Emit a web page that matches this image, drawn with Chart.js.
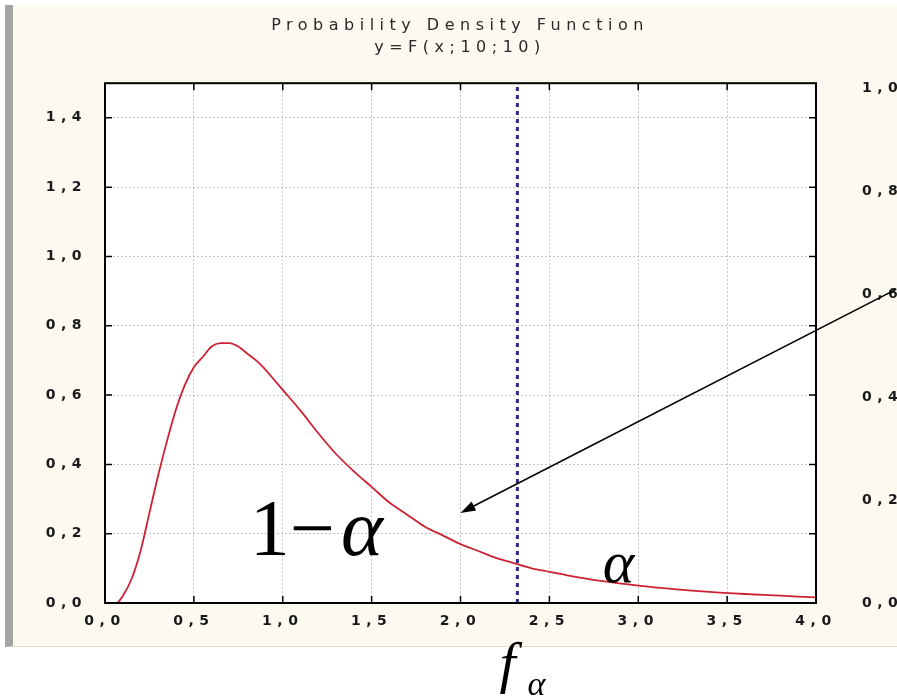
<!DOCTYPE html>
<html lang="en">
<head>
<meta charset="UTF-8">
<title>Probability Density Function</title>
<script src="https://cdn.jsdelivr.net/npm/chart.js"></script>
<style>
    html, body {
        margin: 0;
        padding: 0;
        width: 897px;
        height: 697px;
        overflow: hidden;
        background: #ffffff;
    }
    .panel {
        position: absolute;
        left: 5px;
        top: 5px;
        width: 892px;
        height: 642px;
        box-sizing: border-box;
        background: #fcf9f0;
        border-left: 8px solid #a4a4a4;
        border-bottom: 1px solid #e4e0d6;
    }
    canvas {
        position: absolute;
        left: 0;
        top: 0;
    }
</style>
</head>
<body>
<div class="panel"></div>
<canvas id="pdfChart" width="920" height="697"></canvas>
<script>
    // density curve
    const xValues = [0.07, 0.1, 0.15, 0.2, 0.25, 0.3, 0.35, 0.4, 0.45, 0.5, 0.55, 0.6, 0.65, 0.7, 0.75,
        0.8, 0.85, 0.9, 0.95, 1.0, 1.1, 1.2, 1.3, 1.4, 1.5, 1.6, 1.7, 1.8, 1.9, 2.0, 2.1, 2.2, 2.3,
        2.4, 2.5, 2.6, 2.8, 3.0, 3.2, 3.4, 3.6, 3.8, 4.0];
    const densityValues = [0.0, 0.02, 0.07, 0.15, 0.26, 0.37, 0.47, 0.56, 0.63, 0.68, 0.71, 0.74, 0.75, 0.75, 0.74,
        0.72, 0.70, 0.675, 0.645, 0.615, 0.555, 0.49, 0.43, 0.38, 0.335, 0.29, 0.255, 0.22, 0.195, 0.17, 0.15, 0.13, 0.115,
        0.10, 0.09, 0.08, 0.063, 0.05, 0.04, 0.032, 0.026, 0.021, 0.016];
    const criticalValue = 2.32;

    const xTickValues = [0, 0.5, 1.0, 1.5, 2.0, 2.5, 3.0, 3.5, 4.0];
    const xTickLabels = ['0,0', '0,5', '1,0', '1,5', '2,0', '2,5', '3,0', '3,5', '4,0'];
    const leftTickValues = [0, 0.2, 0.4, 0.6, 0.8, 1.0, 1.2, 1.4];
    const leftTickLabels = ['0,0', '0,2', '0,4', '0,6', '0,8', '1,0', '1,2', '1,4'];
    const rightTickValues = [0, 0.2, 0.4, 0.6, 0.8, 1.0];
    const rightTickLabels = ['0,0', '0,2', '0,4', '0,6', '0,8', '1,0'];

    // annotation anchors, in data units
    const arrowTail = { x: 4.45, y: 0.905 };
    const arrowHead = { x: 2.0, y: 0.26 };
    const oneMinusAlphaPos = { x: 0.815, y: 0.138 };
    const alphaPos = { x: 2.80, y: 0.06 };
    const fAlphaPos = { x: 2.22, y: -0.228 };

    // the old screenshot text is stretched wide, spacing the letters gets close
    const wideText = (ctx) => { ctx.letterSpacing = '5.5px'; };

    const frame = {
        id: 'frame',
        beforeUpdate(chart) { wideText(chart.ctx); },
        beforeDraw(chart) {
            const { ctx, chartArea: a } = chart;
            wideText(ctx);
            ctx.save();
            ctx.fillStyle = '#ffffff';
            ctx.fillRect(a.left, a.top, a.right - a.left, a.bottom - a.top);
            ctx.restore();
        },
        afterDraw(chart) {
            const { ctx, chartArea: a, scales } = chart;
            const X = scales.x, Y = scales.y;
            ctx.save();
            ctx.letterSpacing = '0px';

            // inward tick marks on all four sides
            ctx.strokeStyle = '#000';
            ctx.lineWidth = 1.5;
            ctx.beginPath();
            xTickValues.forEach(v => {
                const px = X.getPixelForValue(v);
                ctx.moveTo(px, a.bottom); ctx.lineTo(px, a.bottom - 7);
                ctx.moveTo(px, a.top); ctx.lineTo(px, a.top + 7);
            });
            leftTickValues.forEach(v => {
                const py = Y.getPixelForValue(v);
                ctx.moveTo(a.left, py); ctx.lineTo(a.left + 7, py);
                ctx.moveTo(a.right, py); ctx.lineTo(a.right - 7, py);
            });
            ctx.stroke();

            ctx.lineWidth = 2;
            ctx.strokeRect(a.left, a.top, a.right - a.left, a.bottom - a.top);

            // arrow
            const tx = X.getPixelForValue(arrowTail.x), ty = Y.getPixelForValue(arrowTail.y);
            const hx = X.getPixelForValue(arrowHead.x), hy = Y.getPixelForValue(arrowHead.y);
            const ang = Math.atan2(hy - ty, hx - tx);
            ctx.lineWidth = 1.6;
            ctx.beginPath();
            ctx.moveTo(tx, ty);
            ctx.lineTo(hx - 10 * Math.cos(ang), hy - 10 * Math.sin(ang));
            ctx.stroke();
            ctx.fillStyle = '#000';
            ctx.beginPath();
            ctx.moveTo(hx, hy);
            ctx.lineTo(hx - 15 * Math.cos(ang) + 5 * Math.sin(ang), hy - 15 * Math.sin(ang) - 5 * Math.cos(ang));
            ctx.lineTo(hx - 15 * Math.cos(ang) - 5 * Math.sin(ang), hy - 15 * Math.sin(ang) + 5 * Math.cos(ang));
            ctx.closePath();
            ctx.fill();

            // formula labels
            ctx.textBaseline = 'alphabetic';
            ctx.textAlign = 'left';
            let x0 = X.getPixelForValue(oneMinusAlphaPos.x);
            const y0 = Y.getPixelForValue(oneMinusAlphaPos.y);
            ctx.font = '80px "Liberation Serif", "Times New Roman", serif';
            ctx.fillText('1\u2212', x0, y0);
            x0 += ctx.measureText('1\u2212').width + 6;
            ctx.font = 'italic 80px "Liberation Serif", "Times New Roman", serif';
            ctx.fillText('\u03b1', x0, y0);

            ctx.font = 'italic 60px "Liberation Serif", "Times New Roman", serif';
            ctx.fillText('\u03b1', X.getPixelForValue(alphaPos.x), Y.getPixelForValue(alphaPos.y));

            const fx = X.getPixelForValue(fAlphaPos.x), fy = Y.getPixelForValue(fAlphaPos.y);
            ctx.font = 'italic 58px "Liberation Serif", "Times New Roman", serif';
            ctx.fillText('f', fx, fy);
            ctx.font = 'italic 34px "Liberation Serif", "Times New Roman", serif';
            ctx.fillText('\u03b1', fx + 28, fy + 13);
            ctx.restore();
        }
    };

    const tickFont = { family: '"DejaVu Sans", Arial, sans-serif', size: 14, weight: 'bold' };

    new Chart(document.getElementById('pdfChart'), {
        type: 'line',
        data: {
            datasets: [
                {
                    data: xValues.map((x, i) => ({ x: x, y: densityValues[i] })),
                    borderColor: '#cc2233',
                    borderWidth: 1.8,
                    pointRadius: 0,
                    cubicInterpolationMode: 'monotone',
                    yAxisID: 'y'
                },
                {
                    data: [{ x: criticalValue, y: 0 }, { x: criticalValue, y: 1.5 }],
                    borderColor: '#2c2c8c',
                    borderWidth: 3,
                    borderDash: [4, 4],
                    borderCapStyle: 'butt',
                    pointRadius: 0,
                    yAxisID: 'y'
                }
            ]
        },
        options: {
            responsive: false,
            animation: false,
            layout: { padding: 0 },
            plugins: {
                legend: { display: false },
                tooltip: { enabled: false },
                title: {
                    display: true,
                    text: ['Probability Density Function', 'y=F(x;10;10)'],
                    color: '#2a2a2a',
                    font: { family: '"DejaVu Sans", Arial, sans-serif', size: 16, weight: 'normal', lineHeight: 1.35 },
                    padding: { top: 15, bottom: 25 }
                }
            },
            scales: {
                x: {
                    type: 'linear',
                    min: 0,
                    max: 4,
                    afterBuildTicks: s => { s.ticks = xTickValues.map(v => ({ value: v })); },
                    afterFit: s => { s.height = 94; },
                    ticks: {
                        color: '#1a1a1a',
                        font: tickFont,
                        padding: 10,
                        maxRotation: 0,
                        callback: (v, i) => xTickLabels[i]
                    },
                    grid: { color: '#c4c4c4', lineWidth: 1, drawTicks: false },
                    border: { display: false, dash: [2, 2] }
                },
                y: {
                    type: 'linear',
                    position: 'left',
                    min: 0,
                    max: 1.5,
                    afterBuildTicks: s => { s.ticks = leftTickValues.map(v => ({ value: v })); },
                    afterFit: s => { s.width = 105; },
                    ticks: {
                        color: '#1a1a1a',
                        font: tickFont,
                        padding: 18,
                        callback: (v, i) => leftTickLabels[i]
                    },
                    grid: { color: '#c4c4c4', lineWidth: 1, drawTicks: false },
                    border: { display: false, dash: [2, 2] }
                },
                yRight: {
                    type: 'linear',
                    position: 'right',
                    min: 0,
                    max: 1.01,
                    afterBuildTicks: s => { s.ticks = rightTickValues.map(v => ({ value: v })); },
                    afterFit: s => { s.width = 104; },
                    ticks: {
                        color: '#1a1a1a',
                        font: tickFont,
                        padding: 46,
                        callback: (v, i) => rightTickLabels[i]
                    },
                    grid: { display: false, drawTicks: false },
                    border: { display: false }
                }
            }
        },
        plugins: [frame]
    });
</script>
</body>
</html>
